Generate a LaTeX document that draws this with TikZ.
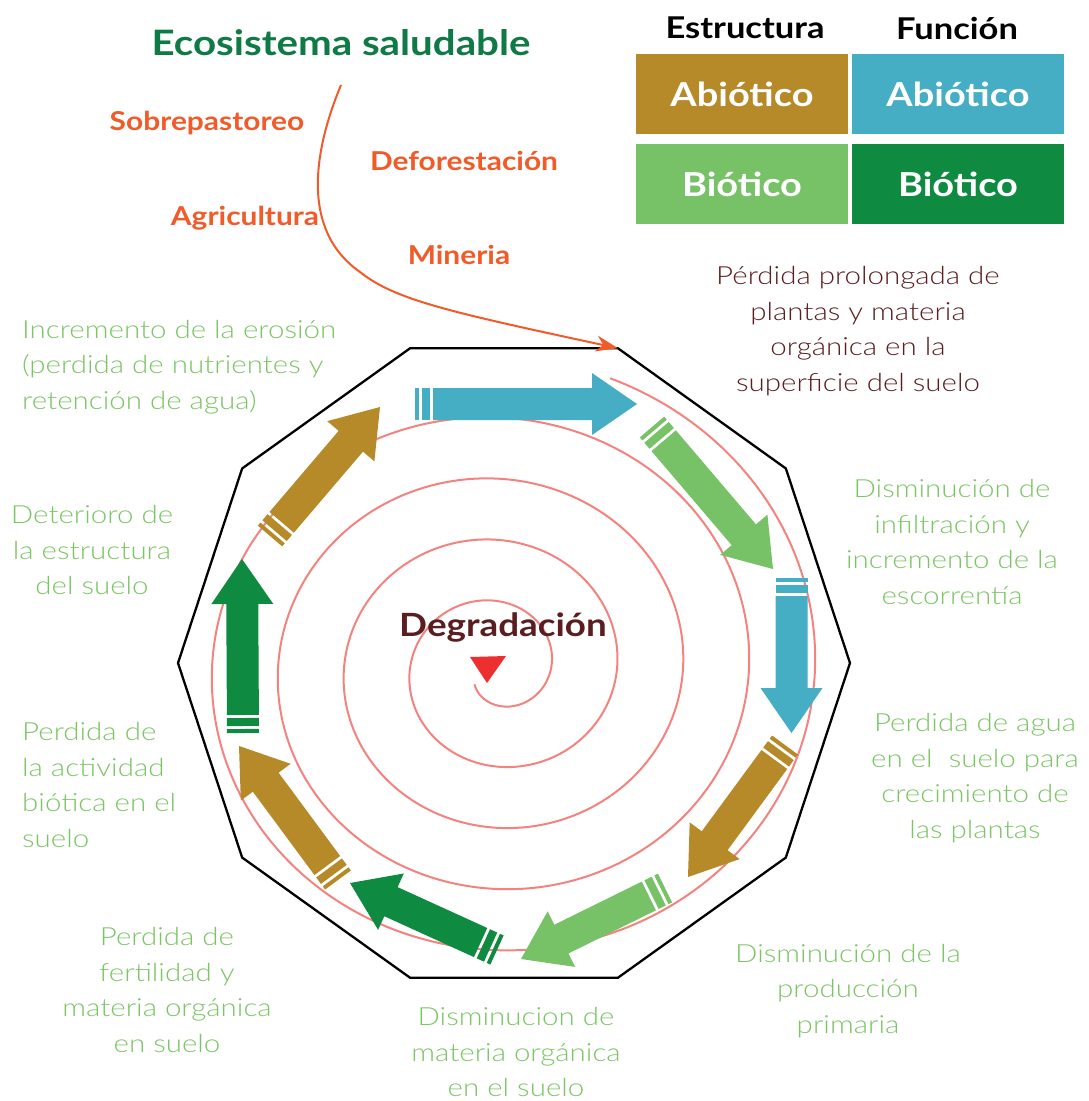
\documentclass[tikz,border=0pt]{standalone}
\usepackage{fontspec}
\setmainfont{Lato}[FakeStretch=1.15]
\newfontfamily\lightfont{Lato Light}[FakeStretch=1.18]
\usetikzlibrary{positioning, arrows.meta}

\definecolor{soilbrown}{HTML}{B68A29}
\definecolor{soilblue}{HTML}{45ADC4}
\definecolor{soillight}{HTML}{77C166}
\definecolor{soildark}{HTML}{0F8B41}
\definecolor{labelgreen}{HTML}{7CC565}
\definecolor{pressorange}{HTML}{F15A29}
\definecolor{titlegreen}{HTML}{0F7A46}
\definecolor{darkmaroon}{HTML}{5A1E20}
\definecolor{spiralpink}{HTML}{F48380}
\definecolor{alarmred}{HTML}{EE2F2F}

% block arrow: colour, tail x, tail y, tip x, tip y (pixels, y down)
\newcommand\soilarrow[5]{%
  \pgfmathsetmacro\arrang{atan2(#3-#5,#4-#2)}%
  \pgfmathsetmacro\arrlen{veclen(#4-#2,#5-#3)}%
  \begin{scope}[shift={(#2,#3)}, rotate=\arrang]
    \fill[#1] (0,-16) rectangle (4,16);
    \fill[#1] (7,-16) rectangle (15,16);
    \fill[#1] (18,-16) -- (\arrlen-45,-16) -- (\arrlen-45,-31) -- (\arrlen,0)
      -- (\arrlen-45,31) -- (\arrlen-45,16) -- (18,16) -- cycle;
  \end{scope}}

\tikzset{
  effect/.style={font=\lightfont\fontsize{25}{35.7}\selectfont, text=labelgreen, align=center, inner sep=0pt},
  cause/.style={font=\bfseries\fontsize{26}{30}\selectfont, text=pressorange, inner sep=0pt},
  legendbox/.style={minimum width=212pt, minimum height=80pt, inner sep=0pt, outer sep=0pt,
    text=white, font=\bfseries\fontsize{33}{38}\selectfont},
  legendhead/.style={font=\bfseries\fontsize{30}{34}\selectfont, text=black, inner sep=0pt},
}

\begin{document}
\begin{tikzpicture}[x=1pt, y=-1pt]
  \useasboundingbox[fill=white] (0,0) rectangle (1089,1101);

  % decagon
  \foreach \k in {0,...,9}
    \coordinate (v\k) at ({514+336*cos(36*\k)}, {663-331*sin(36*\k)});
  \draw[line width=2.3pt] (v0) \foreach \k in {1,...,9}{ -- (v\k)} -- cycle;

  % spiral
  \draw[spiralpink, line width=2pt] plot[domain=-70:1585, samples=700, smooth, variable=\t]
    ({497+(318-0.1833*\t)*cos(\t)}, {668.5+(297-0.17*\t)*sin(\t)});
  \fill[alarmred] (470,657) -- (506,656) -- (487,683) -- cycle;

  \node[font=\bfseries\fontsize{32}{36}\selectfont, text=darkmaroon] (deg) at (503,627) {Degradación};

  % block arrows
  \foreach \c/\xa/\ya/\xb/\yb in {soilblue/415/404/637/404, soillight/652/427/773/569,
      soilblue/791.5/578/791.5/733, soilbrown/785/745/688/877, soillight/665/888/521/959,
      soildark/497/950/350/883, soilbrown/338/880/239/746, soildark/243/733/242/559,
      soilbrown/270/536/380/407}
    \soilarrow{\c}{\xa}{\ya}{\xb}{\yb};

  % title and pressures
  \node[font=\bfseries\fontsize{35}{40}\selectfont, text=titlegreen] (eco) at (341,43) {Ecosistema saludable};
  \coordinate (start) at (341,85);
  \draw[pressorange, line width=2pt, -{Stealth[length=22pt, width=16pt]}]
    (start) .. controls (314,150) and (300,230) .. (360,272)
    .. controls (395,300) and (450,312) .. (v2);

  \node[cause] (sobre) at (207,123) {Sobrepastoreo};
  \node[cause] (defo) at (464,161) {Deforestación};
  \node[cause] (agri) at (245,218) {Agricultura};
  \node[cause] (mine) at (459,255) {Mineria};

  % legend
  \node[legendbox, fill=soilbrown] (estab) at (742,94) {Abiótico};
  \node[legendbox, fill=soilblue] (funab) [right=4pt of estab] {Abiótico};
  \node[legendbox, fill=soillight] (estbi) [below=10pt of estab] {Biótico};
  \node[legendbox, fill=soildark] (funbi) [below=10pt of funab] {Biótico};
  \node[legendhead] (estr) at (745,28) {Estructura};
  \node[legendhead] (func) at (957,28) {Función};

  % effects
  \node[effect, text=darkmaroon] (perd) at (858,331) {Pérdida prolongada de\\plantas y materia\\orgánica en la\\superficie del suelo};
  \node[effect] (infi) at (952,542) {Disminución de\\infiltración y\\incremento de la\\escorrentía};
  \node[effect] (agua) at (975,778) {Perdida de agua\\en el\ \ suelo para\\crecimiento de\\las plantas};
  \node[effect] (prod) at (848,991) {Disminución de la\\producción\\primaria};
  \node[effect] (mater) at (516,1052) {Disminucion de\\materia orgánica\\en el suelo};
  \node[effect] (fert) at (167,990) {Perdida de\\fertilidad y\\materia orgánica\\en suelo};
  \node[effect, align=left, anchor=west] (acti) at (22,785) {Perdida de\\la actividad\\biótica en el\\suelo};
  \node[effect] (dete) at (92,550) {Deterioro de\\la estructura\\del suelo};
  \node[effect, align=left, anchor=west] (eros) at (22,367) {Incremento de la erosión\\(perdida de nutrientes y\\retención de agua)};
\end{tikzpicture}
\end{document}
